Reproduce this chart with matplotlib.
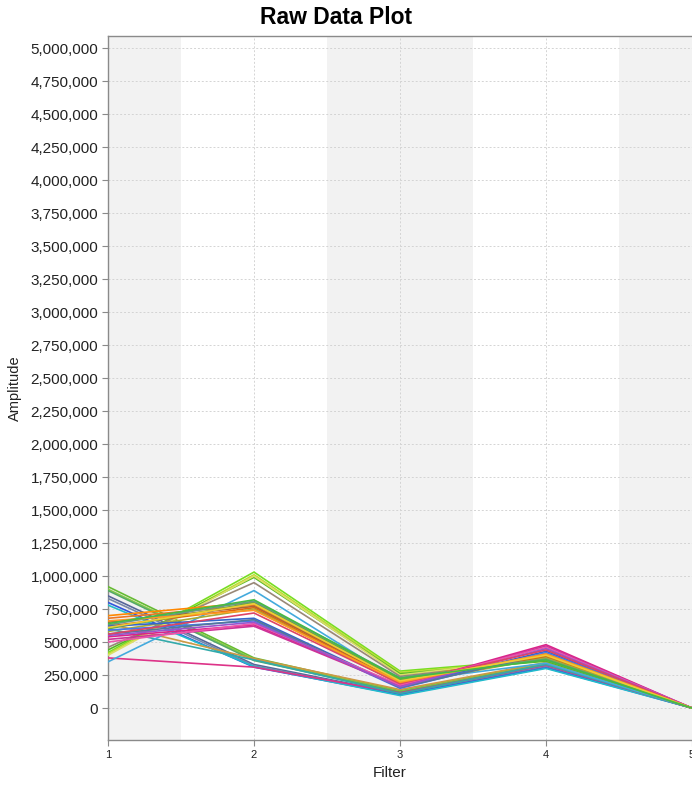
import matplotlib
matplotlib.use("Agg")
import matplotlib.pyplot as plt
from matplotlib.ticker import FuncFormatter, MultipleLocator

plt.rcParams['font.family'] = ['Liberation Sans', 'DejaVu Sans']

filters = [1, 2, 3, 4, 5]

# Amplitude per sample across the five filters
series_values = [
    [920000, 380000, 130000, 340000, 0],
    [900000, 370000, 125000, 335000, 0],
    [890000, 360000, 120000, 330000, 0],
    [850000, 330000, 110000, 320000, 0],
    [830000, 320000, 105000, 315000, 0],
    [800000, 310000, 100000, 305000, 0],
    [780000, 315000, 95000, 300000, 0],
    [380000, 310000, 115000, 325000, 0],
    [640000, 375000, 140000, 345000, 0],
    [600000, 365000, 110000, 330000, 0],
    [420000, 1030000, 280000, 370000, 0],
    [410000, 1010000, 270000, 360000, 0],
    [440000, 990000, 260000, 355000, 0],
    [400000, 1000000, 250000, 380000, 0],
    [460000, 950000, 240000, 365000, 0],
    [350000, 890000, 200000, 340000, 0],
    [700000, 800000, 220000, 400000, 0],
    [680000, 780000, 210000, 390000, 0],
    [650000, 770000, 200000, 385000, 0],
    [620000, 760000, 190000, 395000, 0],
    [600000, 800000, 215000, 375000, 0],
    [580000, 750000, 180000, 380000, 0],
    [630000, 810000, 230000, 370000, 0],
    [620000, 680000, 160000, 430000, 0],
    [590000, 660000, 150000, 420000, 0],
    [560000, 670000, 155000, 410000, 0],
    [540000, 630000, 170000, 480000, 0],
    [520000, 620000, 165000, 470000, 0],
    [500000, 640000, 175000, 460000, 0],
    [550000, 650000, 160000, 450000, 0],
    [560000, 720000, 185000, 440000, 0],
    [660000, 740000, 195000, 410000, 0],
    [610000, 790000, 205000, 400000, 0],
    [640000, 820000, 225000, 365000, 0],
]

series_colors = [
    "#66bb33", "#88cc44", "#55aa66", "#556699", "#7788aa", "#3355dd",
    "#22bbcc", "#dd3388", "#cc9944", "#33aaaa", "#77dd22", "#bbdd33",
    "#55bb22", "#dddd66", "#998877", "#44aadd", "#ff8800", "#ee7722",
    "#aa6633", "#dd6611", "#66aa44", "#aaaa33", "#669988", "#3366cc",
    "#4477ee", "#557799", "#dd2288", "#cc3399", "#ee55aa", "#9955cc",
    "#dd4466", "#ff9922", "#eecc33", "#44bb44",
]

W, H = 692, 790
fig = plt.figure(figsize=(W / 100, H / 100), dpi=100)
ax = fig.add_axes([108 / W, 1 - 740 / H, 1 - 108 / W, (740 - 36) / H])

# alternating category bands
for i, f in enumerate(filters):
    if i % 2 == 0:
        ax.axvspan(f - 0.5, f + 0.5, color="#f2f2f2", zorder=0, lw=0)

for vals, col in zip(series_values, series_colors):
    ax.plot(filters, vals, color=col, lw=1.2, zorder=3, solid_joinstyle="miter")

ax.set_xlim(1, 5)
ax.set_ylim(-242000, 5091000)
ax.yaxis.set_major_locator(MultipleLocator(250000))
ax.yaxis.set_major_formatter(FuncFormatter(lambda v, p: f"{int(round(v)):,}"))
ax.set_xticks(filters)
ax.set_xticklabels([str(f) for f in filters])

ax.grid(True, color="#d4d4d4", lw=0.7, ls=(0, (2, 2)), zorder=1)
ax.set_axisbelow(True)

for side in ["left", "bottom", "top"]:
    ax.spines[side].set_color("#8a8a8a")
    ax.spines[side].set_linewidth(1.0)
ax.spines["right"].set_visible(False)

ax.tick_params(axis="y", colors="#8a8a8a", labelcolor="#222222", labelsize=11,
               length=4, width=0.8, pad=3)
ax.tick_params(axis="x", colors="#8a8a8a", labelcolor="#222222", labelsize=8,
               length=4, width=0.8, pad=3)

fig.text(336 / W, 1 - 17 / H, "Raw Data Plot", ha="center", va="center",
         fontsize=16.5, fontweight="bold", color="#000000")
fig.text(390 / W, 1 - 773 / H, "Filter", ha="center", va="center",
         fontsize=11, color="#222222")
fig.text(15 / W, 1 - 388 / H, "Amplitude", ha="center", va="center",
         rotation=90, fontsize=10.5, color="#222222")

fig.savefig("out.png", dpi=100)
